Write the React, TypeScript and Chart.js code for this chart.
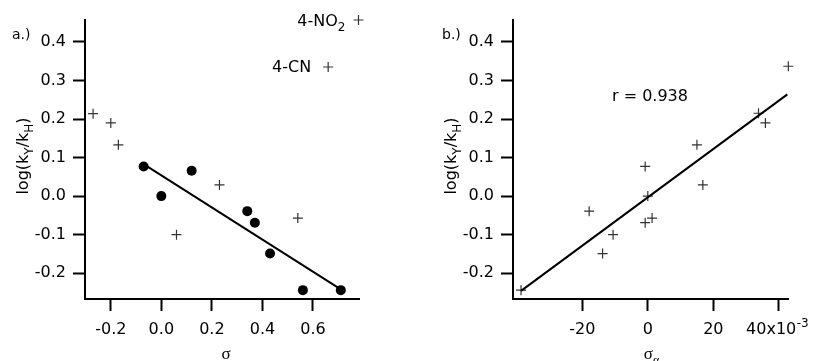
import React, { useEffect, useRef } from "react";
import { Chart, registerables } from "chart.js";

Chart.register(...registerables);

// ---- Panel a: log(kY/kH) vs sigma ----
const aCrossX = [-0.27, -0.2, -0.17, 0.06, 0.23, 0.54, 0.66, 0.78];
const aCrossY = [0.214, 0.19, 0.133, -0.1, 0.029, -0.057, 0.335, 0.457];
const aDotX = [-0.07, 0.0, 0.12, 0.34, 0.37, 0.43, 0.56, 0.71];
const aDotY = [0.077, 0.0, 0.066, -0.039, -0.069, -0.149, -0.244, -0.244];
const aFitX = [-0.07, 0.71];
const aFitY = [0.083, -0.242];
const aXTicks = [-0.2, 0.0, 0.2, 0.4, 0.6];

// ---- Panel b: log(kY/kH) vs sigma_alpha (x10^-3) ----
const bCrossX = [42.9, 33.8, 35.9, 15.0, -0.8, 16.8, 0.0, -17.9, -0.8, 1.3, -10.6, -13.8, -38.7];
const bCrossY = [0.337, 0.215, 0.19, 0.133, 0.077, 0.029, 0.0, -0.039, -0.069, -0.057, -0.1, -0.149, -0.244];
const bFitX = [-38.7, 42.6];
const bFitY = [-0.246, 0.264];
const bXTicks = [-20, 0, 20, 40];

const yTicks = [-0.2, -0.1, 0.0, 0.1, 0.2, 0.3, 0.4];
const labelNO2 = "4-NO";
const labelCN = "4-CN";
const rText = "r = 0.938";
const lastTickText = "40x10";
const lastTickPad = "   ";

const SANS = "'DejaVu Sans', sans-serif";
const SERIF = "'Liberation Serif', serif";

type Seg = { t: string; sub?: boolean; sup?: boolean };

function drawSegs(
  ctx: CanvasRenderingContext2D,
  segs: Seg[],
  x: number,
  y: number,
  size: number,
  family: string,
  align: "left" | "center" | "right"
) {
  const small = Math.round(size * 0.72);
  ctx.textBaseline = "alphabetic";
  ctx.textAlign = "left";
  let total = 0;
  const widths = segs.map((s) => {
    ctx.font = `${s.sub || s.sup ? small : size}px ${family}`;
    const w = ctx.measureText(s.t).width;
    total += w;
    return w;
  });
  let cx = align === "left" ? x : align === "center" ? x - total / 2 : x - total;
  segs.forEach((s, i) => {
    ctx.font = `${s.sub || s.sup ? small : size}px ${family}`;
    const dy = s.sub ? size * 0.3 : s.sup ? -size * 0.45 : 0;
    ctx.fillText(s.t, cx, y + dy);
    cx += widths[i];
  });
}

const toPts = (xs: number[], ys: number[]) => xs.map((x, i) => ({ x, y: ys[i] }));

function makeOptions(
  xMin: number,
  xMax: number,
  xTicks: number[],
  xFmt: (v: number) => string,
  yWidth: number,
  padRight: number
): any {
  const tickFont = { family: SANS, size: 16 };
  return {
    responsive: false,
    animation: false,
    layout: { padding: { left: 0, top: 20, right: padRight, bottom: 0 } },
    plugins: { legend: { display: false }, tooltip: { enabled: false } },
    scales: {
      x: {
        type: "linear",
        min: xMin,
        max: xMax,
        afterBuildTicks: (s: any) => {
          s.ticks = xTicks.map((v) => ({ value: v }));
        },
        afterFit: (s: any) => {
          s.height = 62;
          s.paddingLeft = 0;
          s.paddingRight = 0;
        },
        ticks: { font: tickFont, color: "#000", padding: 9, maxRotation: 0, autoSkip: false, callback: (v: any) => xFmt(Number(v)) },
        grid: { drawOnChartArea: false, drawTicks: true, tickLength: 12, tickWidth: 2, tickColor: "#000", color: "#000" },
        border: { display: true, color: "#000", width: 2 },
      },
      y: {
        type: "linear",
        min: -0.267,
        max: 0.457,
        afterBuildTicks: (s: any) => {
          s.ticks = yTicks.map((v) => ({ value: v }));
        },
        afterFit: (s: any) => {
          s.width = yWidth;
          s.paddingTop = 0;
          s.paddingBottom = 0;
        },
        ticks: { font: tickFont, color: "#000", padding: 7, callback: (v: any) => Number(v).toFixed(1) },
        grid: { drawOnChartArea: false, drawTicks: true, tickLength: 12, tickWidth: 2, tickColor: "#000", color: "#000" },
        border: { display: true, color: "#000", width: 2 },
      },
    },
  };
}

function yTitle(ctx: CanvasRenderingContext2D, cx: number, cy: number) {
  ctx.save();
  ctx.translate(cx, cy);
  ctx.rotate(-Math.PI / 2);
  ctx.fillStyle = "#000";
  drawSegs(
    ctx,
    [{ t: "log(k" }, { t: "Y", sub: true }, { t: "/k" }, { t: "H", sub: true }, { t: ")" }],
    0,
    0,
    16,
    SANS,
    "center"
  );
  ctx.restore();
}

const panelAPlugin = {
  id: "panelA",
  afterDraw(chart: any) {
    const { ctx, chartArea, scales } = chart;
    ctx.save();
    ctx.fillStyle = "#000";
    drawSegs(ctx, [{ t: "a.)" }], chartArea.left - 73, 39, 14, SANS, "left");
    const nx = scales.x.getPixelForValue(aCrossX[7]);
    const ny = scales.y.getPixelForValue(aCrossY[7]);
    drawSegs(ctx, [{ t: labelNO2 }, { t: "2", sub: true }], nx - 13, ny + 6, 16, SANS, "right");
    const cxp = scales.x.getPixelForValue(aCrossX[6]);
    const cyp = scales.y.getPixelForValue(aCrossY[6]);
    drawSegs(ctx, [{ t: labelCN }], cxp - 17, cyp + 5, 16, SANS, "right");
    yTitle(ctx, chartArea.left - 57, 156);
    ctx.fillStyle = "#000";
    drawSegs(ctx, [{ t: "σ" }], (chartArea.left + chartArea.right) / 2 + 4, 359, 17, SERIF, "center");
    ctx.restore();
  },
};

const panelBPlugin = {
  id: "panelB",
  afterDraw(chart: any) {
    const { ctx, chartArea, scales } = chart;
    ctx.save();
    ctx.fillStyle = "#000";
    drawSegs(ctx, [{ t: "b.)" }], chartArea.left - 71, 39, 14, SANS, "left");
    drawSegs(ctx, [{ t: rText }], chartArea.left + 99, 101, 16, SANS, "left");
    yTitle(ctx, chartArea.left - 57, 156);
    ctx.fillStyle = "#000";
    drawSegs(ctx, [{ t: "σ" }, { t: "α", sub: true }], (chartArea.left + chartArea.right) / 2 + 1, 359, 17, SERIF, "center");
    // superscript exponent after the last x tick label
    const last = bXTicks[bXTicks.length - 1];
    const px = scales.x.getPixelForValue(last);
    ctx.font = `16px ${SANS}`;
    const wText = ctx.measureText(lastTickText).width;
    const wAll = ctx.measureText(lastTickText + lastTickPad).width;
    drawSegs(ctx, [{ t: "-3" }], px - wAll / 2 + wText + 0.5, 327, 12, SANS, "left");
    ctx.restore();
  },
};

export default function App() {
  const refA = useRef<HTMLCanvasElement>(null);
  const refB = useRef<HTMLCanvasElement>(null);

  useEffect(() => {
    const crossStyle = {
      pointStyle: "cross",
      pointRadius: 5,
      pointBorderWidth: 1.2,
      borderColor: "#333",
      backgroundColor: "#333",
      showLine: false,
      clip: false,
    };
    const chartA = new Chart(refA.current!, {
      type: "scatter",
      data: {
        datasets: [
          {
            type: "line",
            data: toPts(aFitX, aFitY),
            borderColor: "#000",
            borderWidth: 2,
            pointRadius: 0,
            showLine: true,
            fill: false,
          } as any,
          { data: toPts(aCrossX, aCrossY), ...crossStyle } as any,
          {
            data: toPts(aDotX, aDotY),
            pointStyle: "circle",
            pointRadius: 5,
            pointBorderWidth: 0,
            backgroundColor: "#000",
            borderColor: "#000",
            clip: false,
          } as any,
        ],
      },
      options: makeOptions(-0.302, 0.782, aXTicks, (v) => v.toFixed(1), 85, 47),
      plugins: [panelAPlugin],
    });
    const chartB = new Chart(refB.current!, {
      type: "scatter",
      data: {
        datasets: [
          {
            type: "line",
            data: toPts(bFitX, bFitY),
            borderColor: "#000",
            borderWidth: 2,
            pointRadius: 0,
            showLine: true,
            fill: false,
          } as any,
          { data: toPts(bCrossX, bCrossY), ...crossStyle } as any,
        ],
      },
      options: makeOptions(
        -41.15,
        42.8,
        bXTicks,
        (v) => (v === bXTicks[bXTicks.length - 1] ? lastTickText + lastTickPad : String(v)),
        107,
        25
      ),
      plugins: [panelBPlugin],
    });
    return () => {
      chartA.destroy();
      chartB.destroy();
    };
  }, []);

  return (
    <div style={{ position: "absolute", left: 0, top: 0, width: 813, height: 361, background: "#fff" }}>
      <canvas ref={refA} width={406} height={361} style={{ position: "absolute", left: 0, top: 0, width: 406, height: 361 }} />
      <canvas ref={refB} width={407} height={361} style={{ position: "absolute", left: 406, top: 0, width: 407, height: 361 }} />
    </div>
  );
}
